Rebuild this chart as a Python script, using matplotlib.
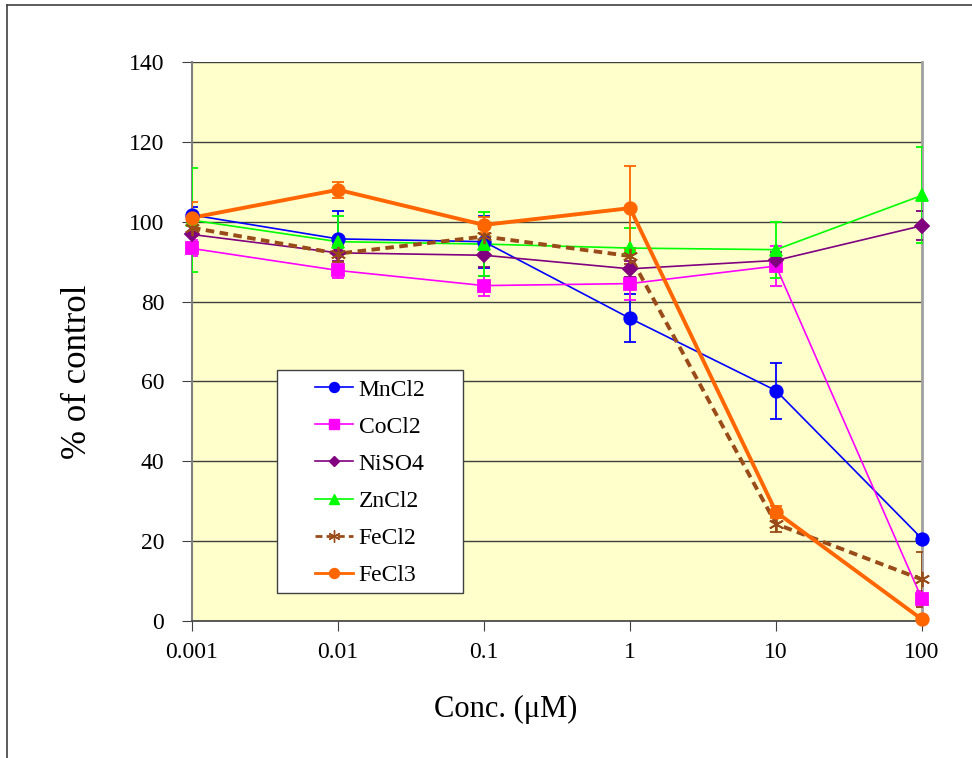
import matplotlib
matplotlib.use("Agg")
import matplotlib.pyplot as plt
from matplotlib.lines import Line2D
from matplotlib.patches import Rectangle

plt.rcParams['font.family'] = ['Liberation Serif', 'DejaVu Serif']

conc = [0.001, 0.01, 0.1, 1, 10, 100]
conc_labels = ['0.001', '0.01', '0.1', '1', '10', '100']

mncl2 = [101.7, 95.7, 95.0, 75.8, 57.7, 20.6]
mncl2_err = [2.0, 7.0, 6.5, 6.0, 7.0, 1.0]
cocl2 = [93.3, 87.8, 84.0, 84.5, 88.9, 5.5]
cocl2_err = [2.0, 2.0, 2.5, 4.0, 5.0, 2.0]
niso4 = [96.8, 92.2, 91.6, 88.2, 90.3, 99.0]
niso4_err = [2.0, 2.0, 3.0, 2.0, 2.0, 3.7]
zncl2 = [100.4, 95.0, 94.4, 93.4, 93.0, 106.6]
zncl2_err = [13.0, 6.5, 8.0, 5.0, 7.0, 12.0]
fecl2 = [98.5, 92.0, 96.3, 91.4, 24.3, 10.4]
fecl2_err = [2.0, 2.0, 2.0, 2.0, 2.0, 7.0]
fecl3 = [101.0, 108.0, 99.2, 103.4, 27.3, 0.4]
fecl3_err = [4.0, 2.0, 2.0, 10.5, 1.5, 0.5]

W, H = 972, 758
fig = plt.figure(figsize=(W/100, H/100), dpi=100)
ax = fig.add_axes([192/W, 1-621/H, (922-192)/W, (621-62)/H])
ax.set_facecolor('#FFFFCC')

# figure border lines (top and left)
fig.add_artist(Line2D([7/W, 1.0], [1-5/H, 1-5/H], color='#404040', lw=1.2, transform=fig.transFigure))
fig.add_artist(Line2D([7/W, 7/W], [0, 1-5/H], color='#404040', lw=1.2, transform=fig.transFigure))

series = [
    ('MnCl2', mncl2, mncl2_err, '#0000FF', 'o', 9, '-', 1.2),
    ('CoCl2', cocl2, cocl2_err, '#FF00FF', 's', 9, '-', 1.2),
    ('NiSO4', niso4, niso4_err, '#800080', 'D', 7, '-', 1.2),
    ('ZnCl2', zncl2, zncl2_err, '#00FF00', '^', 9, '-', 1.2),
    ('FeCl2', fecl2, fecl2_err, '#994C1A', (6, 2, 0), 11, (0, (2.2, 1.4)), 2.8),
    ('FeCl3', fecl3, fecl3_err, '#FF6600', 'o', 9, '-', 2.8),
]

handles = []
for name, vals, err, col, mk, ms, ls, lw in series:
    ax.errorbar(conc, vals, yerr=err, fmt='none', ecolor=col, elinewidth=1.3,
                capsize=4, capthick=1.3, zorder=3)
    ax.plot(conc, vals, color=col, linestyle=ls, lw=lw, zorder=4)
    ax.plot(conc, vals, color=col, linestyle='none', marker=mk, markersize=ms,
            markeredgecolor=col, markerfacecolor=col, markeredgewidth=1.3, zorder=5, clip_on=False)
    h = Line2D([], [], color=col, linestyle=(0, (2.5, 1.5)) if ls != '-' else '-',
               lw=min(lw, 2.0), marker=mk,
               markersize=ms*0.8, markerfacecolor=col, markeredgecolor=col,
               markeredgewidth=1.0)
    handles.append((h, name))

ax.set_xscale('log')
ax.set_xlim(0.001, 100)
ax.set_ylim(0, 140)
ax.set_yticks(range(0, 141, 20))
ax.set_xticks(conc)
ax.set_xticklabels(conc_labels)
ax.minorticks_off()
ax.tick_params(axis='both', labelsize=17, direction='out', length=7, color='#404040')
ax.tick_params(axis='y', pad=13)
ax.tick_params(axis='x', pad=8)
ax.yaxis.grid(True, color='#404040', lw=1.0)
ax.set_axisbelow(True)

ax.spines['top'].set_visible(False)
ax.spines['right'].set_color('#A0A0A0')
ax.spines['right'].set_linewidth(2)
ax.spines['left'].set_color('#808080')
ax.spines['left'].set_linewidth(1.5)
ax.spines['bottom'].set_color('#404040')
ax.spines['bottom'].set_linewidth(1.2)

ax.set_ylabel('% of control', fontsize=25, va='center')
ax.yaxis.set_label_coords((78-192)/730, (621-372)/559)
ax.set_xlabel('Conc. (\u03bcM)', fontsize=22, va='center')
ax.xaxis.set_label_coords((506-192)/730, (621-709)/559)

# legend frame
fig.add_artist(Rectangle((277/W, 1-593/H), (463-277)/W, (593-370)/H,
                         transform=fig.transFigure, facecolor='white',
                         edgecolor='#404040', lw=1.0, zorder=6))
leg = fig.legend([h for h, n in handles], [n for h, n in handles],
                 loc='upper left', bbox_to_anchor=(315/W, 1-379/H),
                 fontsize=17, frameon=False, handlelength=1.6,
                 labelspacing=0.66, borderpad=0, handletextpad=0.25,
                 borderaxespad=0)
leg.set_zorder(7)

fig.savefig('out.png', dpi=100)
